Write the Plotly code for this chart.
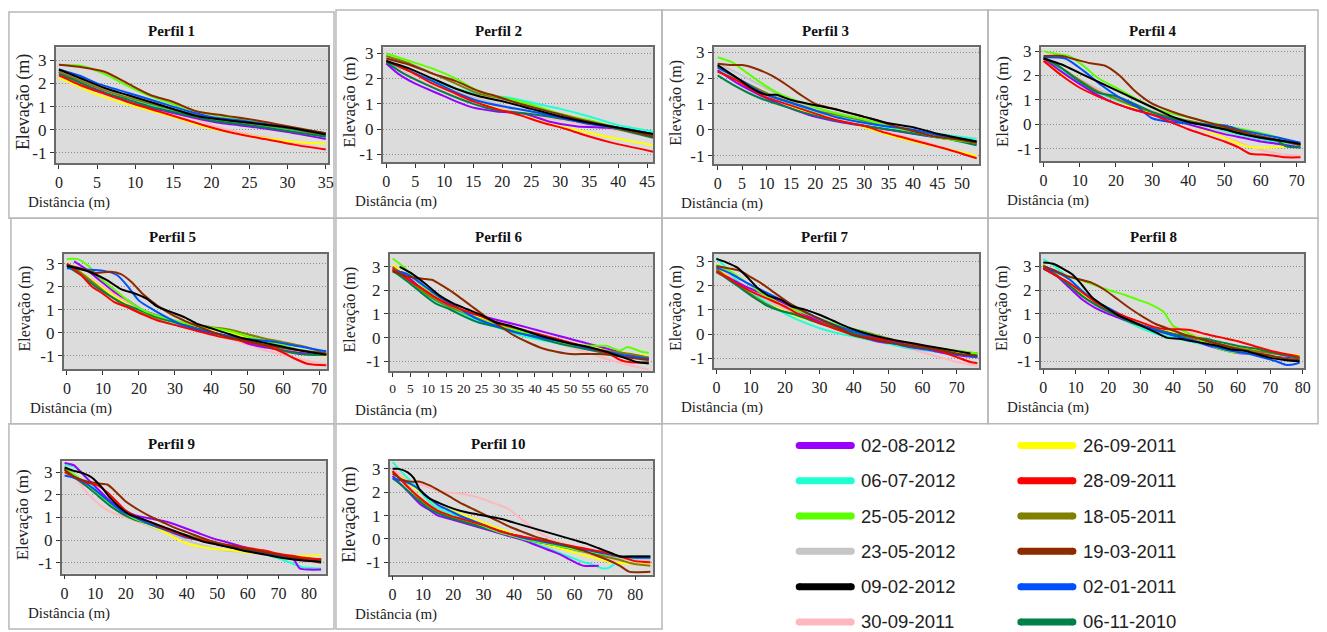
import plotly.graph_objects as go

# ---------------- data ----------------
DATES = ["02-08-2012", "06-07-2012", "25-05-2012", "23-05-2012", "09-02-2012", "30-09-2011",
         "26-09-2011", "28-09-2011", "18-05-2011", "19-03-2011", "02-01-2011", "06-11-2010"]
COLORS = ["#9b00ff", "#1fffd2", "#5cff00", "#c6c6c6", "#000000", "#ffb7bf",
          "#ffff00", "#ff0000", "#7f7f00", "#8c2a00", "#0050ff", "#00804a"]
DRAW_ORDER = ["23-05-2012", "30-09-2011", "26-09-2011", "06-07-2012", "02-08-2012", "18-05-2011",
              "06-11-2010", "25-05-2012", "02-01-2011", "28-09-2011", "19-03-2011", "09-02-2012"]
TICK_Y = [-1, 0, 1, 2, 3]
TICK_Y_TEXT = ["-1", "0", "1", "2", "3"]
TITLES = ["Perfil 1", "Perfil 2", "Perfil 3", "Perfil 4", "Perfil 5",
          "Perfil 6", "Perfil 7", "Perfil 8", "Perfil 9", "Perfil 10"]
Y_TITLE = "Elevação (m)"
X_TITLE = "Distância (m)"

PERFIL_1 = {
    "02-08-2012": ([0, 3, 6, 10, 14, 18, 21, 26, 30, 35], [2.5, 2.0, 1.6, 1.1, 0.8, 0.5, 0.3, 0.1, -0.1, -0.4]),
    "06-07-2012": ([0, 6, 12, 18, 23, 28, 32, 35], [2.45, 1.6, 1.05, 0.6, 0.3, 0.1, -0.1, -0.3]),
    "25-05-2012": ([0, 3, 6, 9, 12, 15, 18, 22, 26, 30, 35], [2.8, 2.75, 2.4, 1.9, 1.45, 1.1, 0.8, 0.55, 0.35, 0.1, -0.15]),
    "23-05-2012": ([0, 3, 6, 10, 14, 18, 22, 27, 31, 35], [2.5, 2.1, 1.75, 1.35, 0.95, 0.65, 0.4, 0.2, 0.0, -0.2]),
    "09-02-2012": ([0, 3, 6, 9, 12, 15, 18, 21, 25, 30, 35], [2.6, 2.2, 1.8, 1.5, 1.2, 0.9, 0.6, 0.45, 0.3, 0.1, -0.2]),
    "30-09-2011": ([0, 3, 6, 10, 14, 18, 21, 25, 29, 33, 35], [2.4, 1.95, 1.6, 1.2, 0.8, 0.45, 0.1, -0.2, -0.45, -0.7, -0.85]),
    "26-09-2011": ([0, 3, 6, 10, 14, 17, 20, 24, 28, 32, 35], [2.25, 1.8, 1.4, 1.0, 0.65, 0.35, 0.05, -0.2, -0.4, -0.55, -0.6]),
    "28-09-2011": ([0, 3, 6, 10, 14, 17, 20, 23, 27, 31, 35], [2.35, 1.9, 1.55, 1.1, 0.7, 0.4, 0.1, -0.15, -0.4, -0.65, -0.85]),
    "18-05-2011": ([0, 3, 6, 10, 14, 18, 22, 27, 31, 35], [2.5, 2.1, 1.7, 1.3, 0.95, 0.65, 0.4, 0.2, 0.0, -0.25]),
    "19-03-2011": ([0, 3, 6, 9, 12, 15, 18, 22, 26, 30, 35], [2.8, 2.7, 2.5, 2.0, 1.5, 1.2, 0.8, 0.6, 0.4, 0.15, -0.15]),
    "02-01-2011": ([0, 3, 5, 9, 13, 17, 20, 25, 30, 35], [2.6, 2.3, 2.0, 1.6, 1.2, 0.8, 0.55, 0.35, 0.1, -0.15]),
    "06-11-2010": ([0, 3, 5, 9, 12, 16, 20, 25, 30, 35], [2.4, 2.0, 1.7, 1.3, 1.0, 0.7, 0.4, 0.2, -0.05, -0.3]),
}

PERFIL_2 = {
    "02-08-2012": ([0, 2, 5, 9, 12, 15, 19, 24, 28, 33, 38, 42, 46], [2.6, 2.2, 1.8, 1.4, 1.1, 0.85, 0.7, 0.6, 0.3, 0.1, 0.05, -0.05, -0.25]),
    "06-07-2012": ([0, 3, 7, 12, 17, 21, 26, 30, 35, 40, 46], [2.6, 2.4, 2.0, 1.6, 1.35, 1.25, 1.0, 0.8, 0.5, 0.15, -0.1]),
    "25-05-2012": ([0, 4, 8, 12, 15, 18, 22, 26, 30, 35, 40, 46], [3.0, 2.7, 2.4, 2.0, 1.6, 1.35, 1.15, 0.9, 0.6, 0.35, 0.05, -0.2]),
    "23-05-2012": ([0, 7, 13, 19, 25, 31, 37, 42, 46], [2.8, 2.0, 1.4, 1.0, 0.7, 0.4, 0.15, -0.05, -0.3]),
    "09-02-2012": ([0, 4, 8, 12, 16, 20, 25, 30, 35, 40, 46], [2.7, 2.4, 2.0, 1.6, 1.3, 1.1, 0.8, 0.5, 0.25, 0.05, -0.2]),
    "30-09-2011": ([0, 6, 12, 18, 24, 30, 36, 41, 46], [2.7, 1.9, 1.3, 0.9, 0.6, 0.35, 0.1, -0.1, -0.35]),
    "26-09-2011": ([0, 4, 8, 12, 16, 20, 24, 28, 32, 36, 40, 46], [2.7, 2.3, 1.85, 1.45, 1.05, 0.75, 0.5, 0.2, 0.0, -0.2, -0.4, -0.65]),
    "28-09-2011": ([0, 4, 8, 12, 15, 19, 23, 27, 31, 35, 39, 46], [2.7, 2.3, 1.8, 1.4, 1.1, 0.8, 0.55, 0.25, 0.0, -0.3, -0.55, -0.9]),
    "18-05-2011": ([0, 4, 8, 12, 16, 20, 25, 30, 35, 40, 46], [2.9, 2.6, 2.2, 1.8, 1.4, 1.2, 0.9, 0.6, 0.3, 0.0, -0.3]),
    "19-03-2011": ([0, 4, 8, 12, 16, 19, 23, 28, 33, 39, 46], [2.8, 2.55, 2.2, 1.9, 1.5, 1.3, 1.0, 0.7, 0.4, 0.1, -0.3]),
    "02-01-2011": ([0, 4, 8, 12, 16, 20, 25, 30, 35, 40, 46], [2.7, 2.3, 1.9, 1.45, 1.1, 0.9, 0.7, 0.45, 0.2, 0.05, -0.2]),
    "06-11-2010": ([0, 3, 7, 11, 15, 19, 23, 28, 33, 39, 46], [2.65, 2.2, 1.75, 1.35, 1.0, 0.75, 0.65, 0.5, 0.3, 0.05, -0.35]),
}

PERFIL_3 = {
    "02-08-2012": ([0, 4, 8, 12, 16, 20, 25, 30, 35, 40, 45, 53], [2.3, 1.8, 1.4, 1.05, 0.75, 0.5, 0.3, 0.15, 0.0, -0.15, -0.3, -0.5]),
    "06-07-2012": ([0, 4, 8, 12, 16, 20, 25, 30, 35, 40, 45, 53], [2.3, 1.9, 1.5, 1.2, 0.95, 0.7, 0.5, 0.3, 0.1, -0.05, -0.15, -0.35]),
    "25-05-2012": ([0, 3, 6, 9, 12, 15, 18, 21, 25, 30, 35, 40, 45, 53], [2.8, 2.6, 2.2, 1.8, 1.45, 1.2, 1.0, 0.8, 0.6, 0.4, 0.15, -0.05, -0.3, -0.5]),
    "23-05-2012": ([0, 4, 8, 12, 17, 22, 28, 34, 40, 46, 53], [2.55, 2.2, 1.8, 1.4, 1.0, 0.75, 0.5, 0.2, -0.05, -0.3, -0.5]),
    "09-02-2012": ([0, 4, 7, 10, 12, 15, 20, 25, 30, 35, 40, 45, 53], [2.5, 2.0, 1.6, 1.35, 1.35, 1.15, 0.95, 0.75, 0.5, 0.25, 0.1, -0.15, -0.45]),
    "30-09-2011": ([0, 7, 13, 19, 25, 30, 36, 42, 47, 53], [2.3, 1.6, 1.05, 0.7, 0.4, 0.15, -0.15, -0.45, -0.75, -1.05]),
    "26-09-2011": ([0, 4, 8, 12, 16, 20, 25, 30, 35, 40, 46, 53], [2.3, 1.9, 1.5, 1.15, 0.85, 0.6, 0.35, 0.1, -0.2, -0.45, -0.7, -1.0]),
    "28-09-2011": ([0, 4, 7, 10, 14, 18, 22, 26, 30, 34, 38, 42, 47, 53], [2.25, 1.9, 1.55, 1.25, 1.0, 0.75, 0.5, 0.3, 0.15, -0.1, -0.3, -0.5, -0.75, -1.1]),
    "18-05-2011": ([0, 4, 8, 12, 16, 20, 25, 30, 35, 40, 45, 53], [2.45, 2.0, 1.6, 1.25, 1.0, 0.75, 0.55, 0.35, 0.15, -0.05, -0.25, -0.55]),
    "19-03-2011": ([0, 3, 5, 8, 11, 14, 17, 20, 24, 28, 32, 36, 40, 44, 48, 53], [2.55, 2.5, 2.5, 2.35, 2.1, 1.75, 1.35, 1.0, 0.8, 0.6, 0.4, 0.15, -0.05, -0.25, -0.35, -0.5]),
    "02-01-2011": ([0, 4, 7, 10, 14, 19, 24, 29, 34, 40, 45, 53], [2.4, 2.0, 1.65, 1.35, 1.1, 0.8, 0.5, 0.3, 0.15, 0.0, -0.2, -0.45]),
    "06-11-2010": ([0, 3, 6, 9, 13, 17, 22, 27, 32, 37, 42, 47, 53], [2.1, 1.75, 1.45, 1.2, 0.95, 0.7, 0.45, 0.25, 0.1, -0.05, -0.2, -0.35, -0.6]),
}

PERFIL_4 = {
    "02-08-2012": ([0, 5, 10, 15, 20, 25, 30, 35, 40, 45, 50, 55, 60, 65, 71], [2.7, 2.15, 1.65, 1.2, 0.85, 0.6, 0.4, 0.2, 0.0, -0.2, -0.4, -0.55, -0.7, -0.8, -0.95]),
    "06-07-2012": ([0, 5, 10, 15, 20, 25, 30, 35, 40, 45, 50, 55, 60, 65, 71], [2.7, 2.2, 1.7, 1.3, 1.0, 0.75, 0.5, 0.25, 0.1, -0.05, -0.25, -0.45, -0.6, -0.75, -0.9]),
    "25-05-2012": ([0, 3, 7, 11, 15, 20, 25, 30, 35, 40, 45, 50, 55, 60, 65, 71], [3.0, 2.9, 2.8, 2.4, 1.9, 1.5, 1.1, 0.7, 0.45, 0.3, 0.1, -0.05, -0.2, -0.35, -0.55, -0.85]),
    "23-05-2012": ([0, 5, 10, 15, 20, 25, 30, 35, 40, 45, 50, 55, 60, 65, 71], [2.75, 2.3, 1.85, 1.45, 1.1, 0.8, 0.55, 0.3, 0.1, -0.1, -0.3, -0.45, -0.6, -0.75, -0.9]),
    "09-02-2012": ([0, 5, 10, 15, 20, 25, 30, 35, 40, 45, 50, 55, 60, 65, 71], [2.7, 2.45, 2.1, 1.75, 1.4, 1.05, 0.7, 0.35, 0.1, -0.05, -0.2, -0.4, -0.55, -0.65, -0.8]),
    "30-09-2011": ([0, 5, 10, 15, 20, 25, 30, 35, 40, 45, 50, 55, 60, 65, 71], [2.7, 2.2, 1.75, 1.4, 1.05, 0.7, 0.45, 0.2, 0.0, -0.25, -0.5, -0.8, -1.05, -1.2, -1.3]),
    "26-09-2011": ([0, 5, 10, 15, 20, 25, 30, 35, 40, 45, 50, 55, 58, 63, 67, 71], [2.65, 2.1, 1.7, 1.3, 1.0, 0.7, 0.45, 0.2, 0.0, -0.25, -0.55, -0.85, -0.95, -0.95, -0.9, -0.9]),
    "28-09-2011": ([0, 5, 10, 15, 20, 25, 30, 35, 40, 45, 50, 54, 57, 62, 67, 71], [2.6, 2.0, 1.5, 1.15, 0.85, 0.6, 0.4, 0.1, -0.2, -0.45, -0.7, -0.95, -1.2, -1.25, -1.35, -1.35]),
    "18-05-2011": ([0, 5, 10, 15, 20, 25, 30, 35, 40, 45, 50, 55, 60, 65, 71], [2.7, 2.3, 1.8, 1.35, 1.05, 0.75, 0.5, 0.3, 0.15, 0.0, -0.15, -0.35, -0.5, -0.65, -0.85]),
    "19-03-2011": ([0, 5, 9, 13, 17, 21, 25, 30, 35, 40, 45, 50, 55, 60, 65, 71], [2.8, 2.8, 2.65, 2.5, 2.4, 2.0, 1.4, 0.85, 0.55, 0.3, 0.1, -0.1, -0.3, -0.5, -0.65, -0.85]),
    "02-01-2011": ([0, 6, 11, 16, 21, 26, 30, 35, 40, 45, 50, 55, 60, 65, 71], [2.75, 2.7, 2.2, 1.6, 1.1, 0.7, 0.25, 0.1, 0.05, 0.0, -0.05, -0.25, -0.4, -0.55, -0.75]),
    "06-11-2010": ([0, 5, 10, 15, 20, 25, 30, 35, 40, 45, 50, 55, 60, 65, 67, 71], [2.75, 2.3, 1.75, 1.3, 1.15, 0.85, 0.5, 0.25, 0.1, -0.05, -0.2, -0.4, -0.55, -0.7, -0.9, -0.95]),
}

PERFIL_5 = {
    "02-08-2012": ([2, 5, 9, 13, 17, 21, 26, 31, 36, 41, 46, 50, 54, 58, 64, 72], [3.1, 2.8, 2.3, 1.8, 1.4, 1.0, 0.7, 0.45, 0.2, 0.0, -0.2, -0.45, -0.6, -0.7, -0.85, -0.95]),
    "06-07-2012": ([0, 4, 8, 12, 16, 20, 25, 30, 35, 40, 45, 50, 55, 60, 65, 72], [2.9, 2.5, 2.1, 1.6, 1.2, 0.9, 0.6, 0.35, 0.15, 0.0, -0.15, -0.3, -0.45, -0.6, -0.75, -0.9]),
    "25-05-2012": ([0, 3, 6, 9, 13, 17, 21, 26, 31, 36, 41, 46, 50, 55, 60, 65, 72], [3.2, 3.2, 2.9, 2.4, 1.9, 1.4, 1.0, 0.7, 0.5, 0.3, 0.2, 0.05, -0.15, -0.35, -0.55, -0.75, -0.95]),
    "23-05-2012": ([0, 4, 8, 12, 16, 20, 25, 30, 35, 40, 45, 50, 55, 60, 66, 72], [2.95, 2.55, 2.1, 1.7, 1.35, 1.0, 0.7, 0.45, 0.25, 0.05, -0.15, -0.35, -0.55, -0.7, -0.85, -0.95]),
    "09-02-2012": ([0, 3, 7, 11, 15, 19, 22, 25, 29, 33, 36, 40, 44, 48, 54, 60, 66, 72], [2.9, 2.8, 2.6, 2.3, 1.9, 1.7, 1.5, 1.15, 0.9, 0.65, 0.4, 0.2, 0.0, -0.2, -0.4, -0.6, -0.8, -0.95]),
    "30-09-2011": ([0, 4, 8, 12, 16, 20, 25, 30, 35, 40, 45, 50, 55, 60, 65, 72], [3.0, 2.6, 2.2, 1.8, 1.4, 1.05, 0.75, 0.45, 0.2, 0.0, -0.25, -0.5, -0.75, -0.95, -1.15, -1.35]),
    "26-09-2011": ([0, 4, 8, 12, 16, 20, 25, 30, 35, 40, 45, 50, 55, 60, 66, 72], [3.0, 2.6, 2.15, 1.7, 1.3, 0.95, 0.7, 0.45, 0.3, 0.15, 0.0, -0.2, -0.45, -0.65, -0.85, -1.0]),
    "28-09-2011": ([0, 4, 7, 10, 13, 17, 21, 25, 31, 37, 42, 47, 52, 56, 60, 63, 67, 72], [3.0, 2.5, 2.0, 1.7, 1.35, 1.1, 0.8, 0.55, 0.3, 0.05, -0.15, -0.3, -0.45, -0.6, -0.85, -1.1, -1.35, -1.4]),
    "18-05-2011": ([0, 4, 8, 12, 16, 20, 25, 30, 35, 40, 45, 50, 55, 60, 66, 72], [3.0, 2.6, 2.1, 1.6, 1.2, 0.9, 0.65, 0.5, 0.35, 0.25, 0.15, -0.05, -0.25, -0.4, -0.6, -0.9]),
    "19-03-2011": ([0, 4, 8, 12, 15, 18, 21, 25, 29, 33, 37, 41, 45, 50, 56, 62, 72], [2.95, 2.8, 2.6, 2.65, 2.55, 2.2, 1.7, 1.2, 0.8, 0.5, 0.25, 0.0, -0.2, -0.35, -0.55, -0.7, -0.9]),
    "02-01-2011": ([0, 5, 10, 14, 17, 20, 24, 28, 32, 37, 42, 47, 52, 58, 63, 67, 72], [2.8, 2.75, 2.7, 2.5, 2.0, 1.4, 1.0, 0.65, 0.35, 0.1, -0.05, -0.2, -0.3, -0.4, -0.55, -0.65, -0.8]),
    "06-11-2010": ([0, 4, 8, 12, 16, 20, 24, 28, 32, 37, 42, 47, 52, 57, 62, 67, 72], [2.9, 2.5, 2.0, 1.6, 1.25, 1.0, 0.75, 0.55, 0.35, 0.15, -0.05, -0.25, -0.45, -0.65, -0.85, -0.95, -0.95]),
}

PERFIL_6 = {
    "02-08-2012": ([0, 4, 8, 12, 16, 20, 24, 28, 32, 36, 41, 46, 51, 56, 61, 66, 72], [2.95, 2.6, 2.1, 1.7, 1.35, 1.1, 0.95, 0.8, 0.65, 0.5, 0.3, 0.1, -0.1, -0.3, -0.5, -0.7, -0.85]),
    "06-07-2012": ([0, 4, 8, 12, 16, 20, 24, 28, 32, 36, 40, 45, 50, 55, 60, 66, 72], [2.8, 2.4, 1.95, 1.55, 1.25, 0.95, 0.7, 0.5, 0.3, 0.1, -0.05, -0.2, -0.35, -0.5, -0.65, -0.8, -1.0]),
    "25-05-2012": ([0, 3, 6, 10, 14, 18, 22, 26, 30, 35, 40, 45, 50, 55, 60, 64, 66, 70, 72], [3.35, 3.0, 2.5, 2.0, 1.6, 1.25, 0.95, 0.7, 0.5, 0.3, 0.1, -0.1, -0.25, -0.35, -0.35, -0.55, -0.4, -0.6, -0.65]),
    "23-05-2012": ([0, 4, 8, 12, 16, 20, 24, 28, 32, 37, 42, 47, 52, 57, 62, 67, 72], [2.95, 2.55, 2.05, 1.65, 1.35, 1.05, 0.8, 0.6, 0.4, 0.2, 0.0, -0.2, -0.35, -0.5, -0.65, -0.8, -0.95]),
    "09-02-2012": ([2, 5, 9, 13, 17, 21, 25, 29, 33, 37, 41, 46, 50, 55, 60, 65, 69, 72], [3.0, 2.75, 2.3, 1.8, 1.45, 1.2, 0.95, 0.65, 0.5, 0.3, 0.1, -0.1, -0.25, -0.4, -0.6, -0.85, -1.05, -1.1]),
    "30-09-2011": ([0, 4, 8, 12, 16, 20, 24, 28, 32, 36, 41, 46, 51, 56, 61, 66, 70, 72], [3.0, 2.7, 2.3, 1.8, 1.5, 1.25, 1.05, 0.8, 0.55, 0.3, 0.05, -0.2, -0.45, -0.7, -0.95, -1.15, -1.3, -1.35]),
    "26-09-2011": ([0, 4, 8, 12, 16, 20, 24, 28, 32, 36, 41, 46, 52, 57, 62, 67, 72], [3.1, 2.6, 2.1, 1.7, 1.35, 1.1, 0.85, 0.65, 0.45, 0.3, 0.1, -0.1, -0.3, -0.45, -0.55, -0.7, -0.8]),
    "28-09-2011": ([0, 4, 8, 12, 16, 20, 24, 28, 32, 36, 41, 46, 52, 57, 61, 64, 67, 72], [2.9, 2.5, 2.1, 1.7, 1.4, 1.15, 0.95, 0.7, 0.5, 0.35, 0.15, -0.05, -0.3, -0.5, -0.7, -0.95, -1.05, -1.05]),
    "18-05-2011": ([0, 4, 8, 12, 16, 20, 24, 28, 32, 37, 42, 47, 52, 57, 62, 67, 72], [3.0, 2.5, 2.0, 1.6, 1.3, 1.05, 0.8, 0.6, 0.4, 0.2, 0.0, -0.2, -0.35, -0.5, -0.6, -0.7, -0.85]),
    "19-03-2011": ([0, 4, 8, 11, 14, 18, 22, 26, 30, 34, 38, 42, 46, 50, 54, 58, 62, 66, 72], [2.8, 2.6, 2.5, 2.45, 2.2, 1.8, 1.35, 0.9, 0.5, 0.1, -0.2, -0.45, -0.6, -0.7, -0.7, -0.7, -0.75, -0.85, -0.95]),
    "02-01-2011": ([0, 4, 7, 11, 15, 19, 23, 27, 31, 35, 40, 45, 50, 55, 60, 65, 72], [2.85, 2.7, 2.4, 1.95, 1.55, 1.2, 0.85, 0.6, 0.4, 0.2, 0.05, -0.1, -0.25, -0.45, -0.6, -0.75, -0.9]),
    "06-11-2010": ([0, 4, 8, 12, 16, 20, 24, 28, 33, 38, 43, 48, 53, 58, 63, 68, 72], [2.85, 2.4, 1.9, 1.45, 1.2, 0.9, 0.65, 0.5, 0.3, 0.1, -0.1, -0.3, -0.45, -0.6, -0.75, -0.85, -0.9]),
}

PERFIL_7 = {
    "02-08-2012": ([0, 4, 8, 12, 16, 20, 24, 28, 32, 37, 42, 47, 52, 57, 62, 67, 72, 76], [2.6, 2.3, 2.0, 1.75, 1.5, 1.25, 0.95, 0.65, 0.4, 0.15, -0.1, -0.3, -0.4, -0.55, -0.65, -0.8, -0.9, -0.95]),
    "06-07-2012": ([0, 3, 6, 10, 14, 18, 22, 27, 31, 35, 40, 45, 50, 55, 60, 65, 70, 76], [3.15, 2.7, 2.2, 1.75, 1.35, 1.0, 0.7, 0.4, 0.2, 0.05, -0.1, -0.25, -0.4, -0.55, -0.65, -0.75, -0.85, -0.9]),
    "25-05-2012": ([0, 4, 8, 12, 16, 20, 25, 30, 35, 40, 45, 50, 55, 60, 65, 70, 76], [2.85, 2.6, 2.2, 1.8, 1.45, 1.15, 0.9, 0.65, 0.4, 0.2, 0.0, -0.2, -0.35, -0.5, -0.6, -0.7, -0.8]),
    "23-05-2012": ([0, 4, 8, 12, 16, 20, 25, 30, 35, 40, 45, 50, 55, 60, 65, 70, 76], [2.75, 2.4, 2.0, 1.65, 1.3, 1.0, 0.75, 0.5, 0.3, 0.1, -0.1, -0.3, -0.45, -0.6, -0.7, -0.8, -0.9]),
    "09-02-2012": ([0, 3, 6, 9, 12, 15, 19, 22, 26, 30, 34, 38, 42, 47, 52, 58, 64, 70, 74], [3.1, 2.95, 2.75, 2.35, 1.9, 1.6, 1.4, 1.15, 1.0, 0.8, 0.55, 0.3, 0.1, -0.1, -0.25, -0.4, -0.55, -0.7, -0.8]),
    "30-09-2011": ([0, 4, 8, 12, 16, 20, 25, 30, 35, 40, 45, 50, 55, 60, 65, 70, 76], [2.7, 2.4, 2.0, 1.65, 1.35, 1.05, 0.75, 0.5, 0.25, 0.05, -0.15, -0.35, -0.55, -0.75, -0.95, -1.15, -1.3]),
    "26-09-2011": ([0, 3, 7, 11, 15, 19, 23, 28, 33, 38, 43, 48, 53, 58, 63, 68, 73, 76], [2.8, 2.4, 2.0, 1.6, 1.25, 1.0, 0.75, 0.55, 0.35, 0.15, 0.0, -0.2, -0.35, -0.5, -0.6, -0.7, -0.8, -0.85]),
    "28-09-2011": ([0, 3, 7, 11, 15, 19, 23, 27, 31, 36, 40, 45, 50, 55, 60, 65, 70, 74, 76], [2.6, 2.35, 2.0, 1.7, 1.45, 1.2, 0.9, 0.65, 0.4, 0.15, -0.05, -0.15, -0.25, -0.35, -0.5, -0.7, -0.95, -1.15, -1.2]),
    "18-05-2011": ([0, 3, 7, 11, 15, 19, 24, 28, 33, 38, 43, 48, 53, 58, 63, 68, 73, 76], [2.7, 2.35, 1.95, 1.55, 1.2, 0.95, 0.8, 0.55, 0.35, 0.25, 0.1, -0.1, -0.3, -0.45, -0.55, -0.65, -0.75, -0.8]),
    "19-03-2011": ([0, 4, 7, 10, 13, 17, 21, 26, 31, 36, 40, 45, 50, 55, 60, 65, 70, 76], [2.8, 2.7, 2.6, 2.35, 2.1, 1.7, 1.3, 0.9, 0.55, 0.25, -0.05, -0.2, -0.35, -0.45, -0.55, -0.65, -0.8, -0.9]),
    "02-01-2011": ([0, 4, 9, 14, 19, 24, 29, 34, 39, 44, 49, 54, 59, 64, 69, 76], [2.75, 2.5, 2.1, 1.75, 1.4, 1.05, 0.7, 0.4, 0.15, -0.05, -0.25, -0.4, -0.55, -0.65, -0.8, -0.95]),
    "06-11-2010": ([0, 3, 7, 11, 15, 19, 23, 27, 31, 36, 41, 46, 51, 56, 61, 66, 71, 76], [2.55, 2.3, 1.9, 1.5, 1.15, 0.95, 0.8, 0.6, 0.4, 0.2, 0.0, -0.2, -0.35, -0.5, -0.6, -0.7, -0.85, -0.85]),
}

PERFIL_8 = {
    "02-08-2012": ([0, 4, 8, 12, 16, 20, 24, 28, 32, 36, 40, 45, 50, 55, 60, 65, 70, 75, 79], [2.9, 2.6, 2.1, 1.6, 1.25, 1.0, 0.8, 0.6, 0.45, 0.3, 0.15, -0.05, -0.3, -0.5, -0.65, -0.7, -0.8, -0.85, -0.9]),
    "06-07-2012": ([0, 3, 7, 11, 15, 19, 23, 27, 31, 35, 40, 45, 50, 55, 60, 65, 70, 75, 79], [3.3, 3.05, 2.6, 2.1, 1.6, 1.2, 0.85, 0.6, 0.35, 0.15, 0.0, -0.15, -0.3, -0.45, -0.55, -0.65, -0.8, -0.9, -0.95]),
    "25-05-2012": ([0, 4, 8, 12, 16, 20, 25, 29, 33, 37, 40, 43, 46, 49, 52, 55, 58, 62, 66, 72, 79], [3.0, 2.75, 2.55, 2.4, 2.2, 2.0, 1.8, 1.6, 1.4, 1.1, 0.5, 0.3, 0.1, -0.15, -0.35, -0.5, -0.6, -0.65, -0.75, -0.85, -0.95]),
    "23-05-2012": ([0, 4, 8, 12, 16, 20, 24, 28, 32, 36, 40, 45, 50, 55, 60, 65, 70, 75, 79], [3.0, 2.6, 2.15, 1.7, 1.35, 1.05, 0.8, 0.55, 0.35, 0.2, 0.05, -0.1, -0.3, -0.5, -0.6, -0.7, -0.8, -0.9, -0.95]),
    "09-02-2012": ([0, 3, 6, 9, 12, 15, 19, 23, 27, 31, 35, 38, 42, 46, 50, 54, 58, 62, 66, 70, 75, 79], [3.15, 3.1, 2.9, 2.65, 2.2, 1.7, 1.3, 0.95, 0.7, 0.45, 0.2, 0.0, -0.05, -0.15, -0.25, -0.35, -0.5, -0.55, -0.7, -0.85, -0.95, -1.0]),
    "30-09-2011": ([0, 4, 8, 12, 16, 20, 25, 30, 34, 38, 42, 46, 50, 55, 60, 65, 70, 75, 79], [3.0, 2.6, 2.2, 1.8, 1.4, 1.05, 0.75, 0.65, 0.55, 0.45, 0.35, 0.15, -0.05, -0.25, -0.45, -0.6, -0.75, -0.9, -0.95]),
    "26-09-2011": ([0, 4, 8, 12, 16, 20, 25, 30, 35, 40, 45, 50, 55, 60, 65, 70, 75, 79], [3.0, 2.6, 2.2, 1.8, 1.4, 1.1, 0.85, 0.6, 0.4, 0.25, 0.1, -0.05, -0.2, -0.35, -0.5, -0.6, -0.7, -0.75]),
    "28-09-2011": ([0, 4, 8, 12, 16, 20, 25, 30, 34, 38, 42, 46, 50, 55, 60, 65, 70, 75, 79], [2.9, 2.6, 2.3, 1.9, 1.5, 1.2, 0.9, 0.65, 0.45, 0.35, 0.35, 0.3, 0.15, 0.0, -0.15, -0.35, -0.55, -0.7, -0.8]),
    "18-05-2011": ([0, 4, 8, 12, 16, 20, 24, 28, 32, 36, 40, 45, 50, 55, 60, 65, 70, 75, 79], [3.05, 2.65, 2.2, 1.75, 1.4, 1.1, 0.85, 0.6, 0.4, 0.25, 0.1, 0.0, -0.15, -0.3, -0.45, -0.55, -0.65, -0.75, -0.85]),
    "19-03-2011": ([0, 3, 7, 11, 15, 19, 23, 27, 31, 35, 39, 43, 47, 51, 55, 59, 64, 70, 75, 79], [3.0, 2.85, 2.6, 2.45, 2.3, 2.0, 1.6, 1.2, 0.85, 0.55, 0.35, 0.15, 0.0, -0.15, -0.3, -0.45, -0.6, -0.75, -0.9, -0.95]),
    "02-01-2011": ([0, 4, 8, 12, 16, 20, 24, 28, 32, 36, 40, 44, 48, 52, 56, 60, 64, 68, 72, 75, 78, 79], [2.9, 2.75, 2.45, 1.95, 1.55, 1.25, 0.95, 0.65, 0.45, 0.25, 0.1, -0.05, -0.2, -0.35, -0.5, -0.6, -0.7, -0.85, -1.0, -1.15, -1.1, -1.05]),
    "06-11-2010": ([0, 4, 8, 12, 16, 20, 24, 28, 32, 36, 40, 45, 50, 55, 60, 65, 70, 75, 79], [2.95, 2.6, 2.2, 1.75, 1.4, 1.1, 0.85, 0.6, 0.45, 0.3, 0.15, 0.05, -0.05, -0.2, -0.35, -0.45, -0.6, -0.75, -0.85]),
}

PERFIL_9 = {
    "02-08-2012": ([0, 3, 6, 9, 12, 15, 19, 23, 28, 32, 36, 40, 44, 48, 52, 56, 60, 64, 68, 72, 75, 77, 80, 84], [3.4, 3.3, 2.9, 2.5, 2.1, 1.7, 1.35, 1.1, 0.95, 0.85, 0.7, 0.5, 0.3, 0.1, -0.05, -0.2, -0.35, -0.5, -0.65, -0.75, -0.85, -1.25, -1.3, -1.3]),
    "06-07-2012": ([0, 3, 6, 9, 13, 17, 21, 25, 29, 33, 37, 41, 45, 50, 55, 60, 65, 70, 74, 78, 84], [3.3, 3.25, 2.9, 2.4, 1.9, 1.45, 1.1, 0.85, 0.65, 0.45, 0.3, 0.15, 0.0, -0.15, -0.3, -0.45, -0.6, -0.8, -1.0, -1.2, -1.25]),
    "25-05-2012": ([0, 3, 7, 11, 15, 19, 23, 27, 31, 35, 39, 43, 48, 53, 58, 63, 68, 73, 78, 84], [3.2, 2.9, 2.5, 2.05, 1.6, 1.25, 0.95, 0.75, 0.55, 0.35, 0.2, 0.05, -0.1, -0.25, -0.4, -0.5, -0.6, -0.7, -0.8, -0.85]),
    "23-05-2012": ([0, 3, 7, 11, 15, 19, 23, 27, 32, 37, 42, 47, 52, 57, 62, 67, 72, 77, 84], [3.1, 2.8, 2.4, 1.95, 1.55, 1.2, 0.9, 0.65, 0.4, 0.15, -0.1, -0.3, -0.45, -0.5, -0.55, -0.65, -0.75, -0.8, -0.85]),
    "09-02-2012": ([0, 3, 6, 9, 12, 15, 18, 21, 25, 29, 33, 37, 41, 45, 50, 55, 60, 66, 72, 78, 84], [3.2, 3.05, 2.95, 2.75, 2.35, 1.85, 1.45, 1.15, 0.95, 0.75, 0.55, 0.35, 0.15, -0.05, -0.2, -0.35, -0.5, -0.65, -0.8, -0.9, -0.95]),
    "30-09-2011": ([0, 3, 6, 9, 12, 15, 19, 23, 28, 32, 36, 40, 45, 50, 55, 60, 65, 70, 75, 80, 84], [3.2, 2.8, 2.3, 1.85, 1.5, 1.25, 1.05, 0.85, 0.65, 0.45, 0.25, 0.1, -0.05, -0.2, -0.35, -0.5, -0.6, -0.7, -0.85, -0.95, -1.0]),
    "26-09-2011": ([0, 4, 8, 12, 16, 20, 24, 28, 32, 36, 40, 45, 50, 55, 60, 65, 70, 75, 80, 84], [3.0, 2.7, 2.4, 1.95, 1.5, 1.15, 0.9, 0.65, 0.4, 0.1, -0.15, -0.3, -0.4, -0.45, -0.55, -0.6, -0.7, -0.7, -0.7, -0.65]),
    "28-09-2011": ([0, 3, 7, 11, 14, 17, 20, 24, 28, 32, 36, 40, 45, 50, 55, 60, 65, 70, 75, 80, 84], [3.0, 2.8, 2.55, 2.4, 2.1, 1.7, 1.3, 1.0, 0.8, 0.55, 0.35, 0.15, 0.0, -0.15, -0.25, -0.35, -0.45, -0.6, -0.7, -0.8, -0.85]),
    "18-05-2011": ([0, 3, 7, 11, 15, 19, 23, 27, 31, 35, 39, 43, 48, 53, 58, 63, 68, 73, 78, 84], [3.15, 2.85, 2.45, 2.0, 1.55, 1.2, 0.95, 0.75, 0.55, 0.4, 0.25, 0.1, -0.05, -0.2, -0.35, -0.5, -0.6, -0.7, -0.8, -0.9]),
    "19-03-2011": ([0, 3, 7, 11, 14, 17, 20, 24, 28, 32, 36, 40, 44, 48, 52, 56, 62, 68, 74, 80, 84], [3.1, 2.8, 2.6, 2.5, 2.45, 2.1, 1.7, 1.35, 1.05, 0.8, 0.55, 0.35, 0.15, -0.05, -0.2, -0.3, -0.45, -0.6, -0.75, -0.9, -1.0]),
    "02-01-2011": ([0, 3, 7, 11, 15, 19, 23, 27, 31, 35, 39, 44, 49, 54, 59, 64, 70, 76, 84], [2.85, 2.75, 2.5, 2.1, 1.65, 1.25, 1.0, 0.75, 0.55, 0.35, 0.15, 0.0, -0.15, -0.3, -0.45, -0.55, -0.7, -0.8, -0.85]),
    "06-11-2010": ([0, 3, 7, 11, 15, 19, 23, 27, 31, 35, 39, 43, 48, 53, 58, 63, 68, 73, 78, 84], [3.1, 2.8, 2.4, 1.95, 1.5, 1.15, 0.9, 0.75, 0.55, 0.35, 0.2, 0.05, -0.1, -0.25, -0.4, -0.5, -0.6, -0.7, -0.8, -0.85]),
}

PERFIL_10 = {
    "02-08-2012": ([0, 3, 6, 9, 12, 15, 19, 23, 27, 31, 35, 39, 43, 47, 51, 55, 58, 61, 63, 68], [2.7, 2.3, 1.9, 1.5, 1.25, 1.0, 0.85, 0.7, 0.55, 0.4, 0.25, 0.1, -0.05, -0.25, -0.45, -0.65, -0.85, -1.05, -1.15, -1.15]),
    "06-07-2012": ([0, 2, 5, 8, 11, 14, 18, 22, 26, 30, 34, 38, 42, 46, 50, 54, 58, 62, 66, 69, 71, 73], [3.3, 3.0, 2.6, 2.2, 1.75, 1.4, 1.15, 0.95, 0.75, 0.55, 0.35, 0.15, 0.0, -0.15, -0.35, -0.55, -0.75, -0.95, -1.1, -1.25, -1.25, -1.1]),
    "25-05-2012": ([0, 3, 6, 9, 12, 15, 19, 23, 27, 31, 35, 39, 43, 47, 51, 55, 60, 65, 70, 75, 80, 85], [2.85, 2.5, 2.1, 1.75, 1.45, 1.2, 1.0, 0.85, 0.7, 0.5, 0.3, 0.15, 0.0, -0.1, -0.2, -0.3, -0.45, -0.55, -0.65, -0.75, -0.8, -0.8]),
    "23-05-2012": ([0, 3, 6, 9, 12, 15, 19, 23, 27, 31, 35, 39, 43, 47, 51, 55, 60, 65, 70, 75, 80, 85], [2.9, 2.55, 2.15, 1.8, 1.5, 1.25, 1.05, 0.85, 0.65, 0.45, 0.25, 0.1, -0.05, -0.2, -0.3, -0.4, -0.5, -0.6, -0.75, -0.85, -0.9, -0.9]),
    "09-02-2012": ([0, 2, 5, 7, 9, 12, 16, 20, 24, 28, 32, 36, 40, 44, 48, 52, 56, 60, 64, 68, 72, 75, 80, 85], [3.0, 3.0, 2.85, 2.6, 2.1, 1.75, 1.5, 1.3, 1.15, 1.05, 0.95, 0.85, 0.7, 0.55, 0.4, 0.25, 0.1, -0.05, -0.2, -0.4, -0.6, -0.75, -0.75, -0.75]),
    "30-09-2011": ([0, 3, 6, 10, 14, 18, 22, 26, 30, 34, 38, 41, 44, 47, 50, 54, 58, 62, 66, 70, 75, 80, 85], [3.0, 2.7, 2.4, 2.3, 2.1, 2.0, 1.95, 1.85, 1.7, 1.5, 1.3, 1.0, 0.7, 0.4, 0.15, -0.1, -0.3, -0.5, -0.7, -0.85, -1.0, -1.05, -1.05]),
    "26-09-2011": ([0, 3, 6, 9, 12, 15, 19, 23, 27, 31, 35, 39, 43, 47, 51, 55, 59, 63, 68, 72, 78, 85], [2.8, 2.6, 2.3, 2.0, 1.7, 1.45, 1.25, 1.05, 0.85, 0.65, 0.45, 0.25, 0.05, -0.1, -0.25, -0.4, -0.55, -0.7, -0.85, -1.0, -1.05, -1.1]),
    "28-09-2011": ([0, 3, 6, 9, 12, 15, 19, 23, 27, 31, 35, 39, 43, 47, 51, 55, 59, 63, 67, 71, 75, 80, 85], [2.9, 2.5, 2.1, 1.75, 1.45, 1.2, 1.0, 0.85, 0.7, 0.55, 0.35, 0.2, 0.1, 0.0, -0.1, -0.2, -0.3, -0.4, -0.5, -0.6, -0.75, -0.95, -1.0]),
    "18-05-2011": ([0, 3, 6, 9, 12, 15, 19, 23, 27, 31, 35, 39, 43, 47, 51, 55, 60, 65, 70, 75, 79, 85], [2.9, 2.5, 2.1, 1.7, 1.4, 1.15, 0.95, 0.8, 0.65, 0.5, 0.35, 0.2, 0.05, -0.1, -0.2, -0.3, -0.45, -0.6, -0.75, -0.9, -1.05, -1.15]),
    "19-03-2011": ([0, 3, 6, 9, 12, 15, 19, 23, 27, 31, 35, 39, 43, 47, 51, 55, 59, 63, 67, 71, 75, 78, 85], [2.8, 2.55, 2.45, 2.45, 2.3, 2.1, 1.8, 1.5, 1.25, 1.0, 0.75, 0.5, 0.3, 0.1, -0.05, -0.2, -0.35, -0.5, -0.7, -0.9, -1.15, -1.4, -1.4]),
    "02-01-2011": ([0, 3, 6, 9, 12, 15, 19, 23, 27, 31, 35, 39, 43, 47, 51, 55, 59, 63, 67, 71, 75, 80, 85], [2.6, 2.5, 2.35, 2.1, 1.75, 1.45, 1.2, 0.95, 0.75, 0.55, 0.35, 0.2, 0.05, -0.05, -0.15, -0.25, -0.35, -0.45, -0.55, -0.65, -0.75, -0.8, -0.8]),
    "06-11-2010": ([0, 3, 6, 9, 12, 15, 19, 23, 27, 31, 35, 39, 43, 47, 51, 55, 60, 65, 70, 75, 80, 85], [2.6, 2.3, 1.95, 1.6, 1.3, 1.1, 0.9, 0.75, 0.6, 0.45, 0.3, 0.15, 0.0, -0.1, -0.2, -0.3, -0.45, -0.55, -0.65, -0.75, -0.75, -0.75]),
}

PROFILES = [PERFIL_1, PERFIL_2, PERFIL_3, PERFIL_4, PERFIL_5,
            PERFIL_6, PERFIL_7, PERFIL_8, PERFIL_9, PERFIL_10]

# ---------------- layout (pixel geometry) ----------------
W, H = 1327, 632
SPECS = [
    dict(box=(8, 335, 7, 216), area=(55, 329, 43, 160), xr=[-0.43, 35.3], yr=[-1.43, 3.55], dt=5, xf=16, yt=18),
    dict(box=(337, 665, 5, 216), area=(384, 656, 43, 159), xr=[-0.63, 46.0], yr=[-1.31, 3.24], dt=5, xf=16, yt=17),
    dict(box=(665, 993, 5, 216), area=(717, 984, 43, 161), xr=[-0.81, 53.5], yr=[-1.32, 3.18], dt=5, xf=16, yt=16),
    dict(box=(993, 1325, 5, 216), area=(1046, 1311, 43, 158), xr=[-0.8, 72.0], yr=[-1.5, 3.15], dt=10, xf=16, yt=17),
    dict(box=(10, 335, 216, 424), area=(63, 328, 252, 369), xr=[-0.91, 72.2], yr=[-1.58, 3.43], dt=10, xf=16, yt=16),
    dict(box=(337, 665, 216, 424), area=(391, 656, 252, 371), xr=[-0.85, 73.2], yr=[-1.43, 3.55], dt=5, xf=13.5, yt=16),
    dict(box=(665, 993, 216, 424), area=(717, 984, 252, 368), xr=[-0.79, 76.5], yr=[-1.41, 3.31], dt=10, xf=16, yt=16),
    dict(box=(993, 1325, 216, 424), area=(1046, 1311, 252, 368), xr=[-0.8, 80.4], yr=[-1.29, 3.52], dt=10, xf=16, yt=16),
    dict(box=(8, 335, 424, 632), area=(61, 327, 462, 576), xr=[-0.98, 85.6], yr=[-1.48, 3.48], dt=10, xf=16, yt=17),
    dict(box=(337, 665, 424, 632), area=(391, 656, 462, 577), xr=[-0.98, 85.9], yr=[-1.53, 3.33], dt=10, xf=16, yt=18),
]

SERIF = "Liberation Serif"
SANS = "Liberation Sans"


def px(x):
    return x / W


def py(y):
    return 1 - y / H


color_of = dict(zip(DATES, COLORS))
fig = go.Figure()
layout = {}
annotations = []
shapes = []

for i, (data, sp) in enumerate(zip(PROFILES, SPECS), start=1):
    sx = "" if i == 1 else str(i)
    L, R, T, B = sp["area"]
    for d in DRAW_ORDER:
        xs, ys = data[d]
        fig.add_trace(go.Scatter(
            x=xs, y=ys, mode="lines", line=dict(color=color_of[d], width=2, shape="spline", smoothing=0.6),
            xaxis="x" + sx, yaxis="y" + sx, showlegend=False, hoverinfo="skip", name=d))
    layout["xaxis" + sx] = dict(
        domain=[px(L), px(R)], range=sp["xr"], anchor="y" + sx, tick0=0, dtick=sp["dt"],
        showgrid=False, zeroline=False, showline=True, mirror=True, linecolor="#6a6a6a", linewidth=1.5,
        ticks="outside", ticklen=4, tickcolor="#333", tickwidth=1,
        tickfont=dict(family=SERIF, size=sp["xf"], color="#222"), fixedrange=True)
    layout["yaxis" + sx] = dict(
        domain=[py(B), py(T)], range=sp["yr"], anchor="x" + sx,
        tickvals=TICK_Y, ticktext=TICK_Y_TEXT,
        showgrid=True, gridcolor="#8c8c8c", griddash="1px,2px", gridwidth=1, zeroline=False,
        showline=True, mirror=True, linecolor="#6a6a6a", linewidth=1.5,
        ticks="outside", ticklen=4, tickcolor="#333", tickwidth=1,
        tickfont=dict(family=SERIF, size=17, color="#222"), fixedrange=True)
    # grey plotting area
    shapes.append(dict(type="rect", xref="x" + sx + " domain", yref="y" + sx + " domain",
                       x0=0, x1=1, y0=0, y1=1, fillcolor="#dcdcdc", line=dict(width=0), layer="below"))
    bl, br, bt, bb = sp["box"]
    shapes.append(dict(type="rect", xref="paper", yref="paper", x0=px(bl), x1=px(br), y0=py(bb), y1=py(bt),
                       line=dict(color="#b8b8b8", width=1.5), layer="below"))
    annotations.append(dict(text="<b>" + TITLES[i - 1] + "</b>", xref="paper", yref="paper",
                            x=px((bl + br) / 2), y=py(T - 17), xanchor="center", yanchor="middle",
                            showarrow=False, font=dict(family=SERIF, size=15, color="#111")))
    annotations.append(dict(text=Y_TITLE, xref="paper", yref="paper", textangle=-90,
                            x=px(bl + 14), y=py((T + B) / 2 - 3), xanchor="center", yanchor="middle",
                            showarrow=False, font=dict(family=SERIF, size=sp["yt"], color="#222")))
    annotations.append(dict(text=X_TITLE, xref="paper", yref="paper",
                            x=px(bl + 17), y=py(B + 40), xanchor="left", yanchor="middle",
                            showarrow=False, font=dict(family=SERIF, size=15, color="#222")))

# ---------------- legend drawn on its own (hidden) axes ----------------
LEG_ROWS = 6
SWATCH = 0.235
for k, (d, c) in enumerate(zip(DATES, COLORS)):
    col, row = k // LEG_ROWS, k % LEG_ROWS
    fig.add_trace(go.Scatter(x=[col, col + SWATCH], y=[row, row], mode="lines+markers",
                             line=dict(color=c, width=7), marker=dict(color=c, size=7),
                             xaxis="x11", yaxis="y11", showlegend=False, hoverinfo="skip"))
    annotations.append(dict(text=d, xref="x11", yref="y11", x=col + 0.272, y=row,
                            xanchor="left", yanchor="middle", showarrow=False,
                            font=dict(family=SANS, size=18.5, color="#222")))
layout["xaxis11"] = dict(domain=[px(760), px(1220)], range=[-0.193, 1.87], anchor="y11", visible=False, fixedrange=True)
layout["yaxis11"] = dict(domain=[py(632), py(430)], range=[5.2, -0.45], anchor="x11", visible=False, fixedrange=True)

fig.update_layout(
    width=W, height=H, margin=dict(l=0, r=0, t=0, b=0),
    paper_bgcolor="white", plot_bgcolor="white",
    annotations=annotations, shapes=shapes, **layout)

fig.write_html("out.html")
